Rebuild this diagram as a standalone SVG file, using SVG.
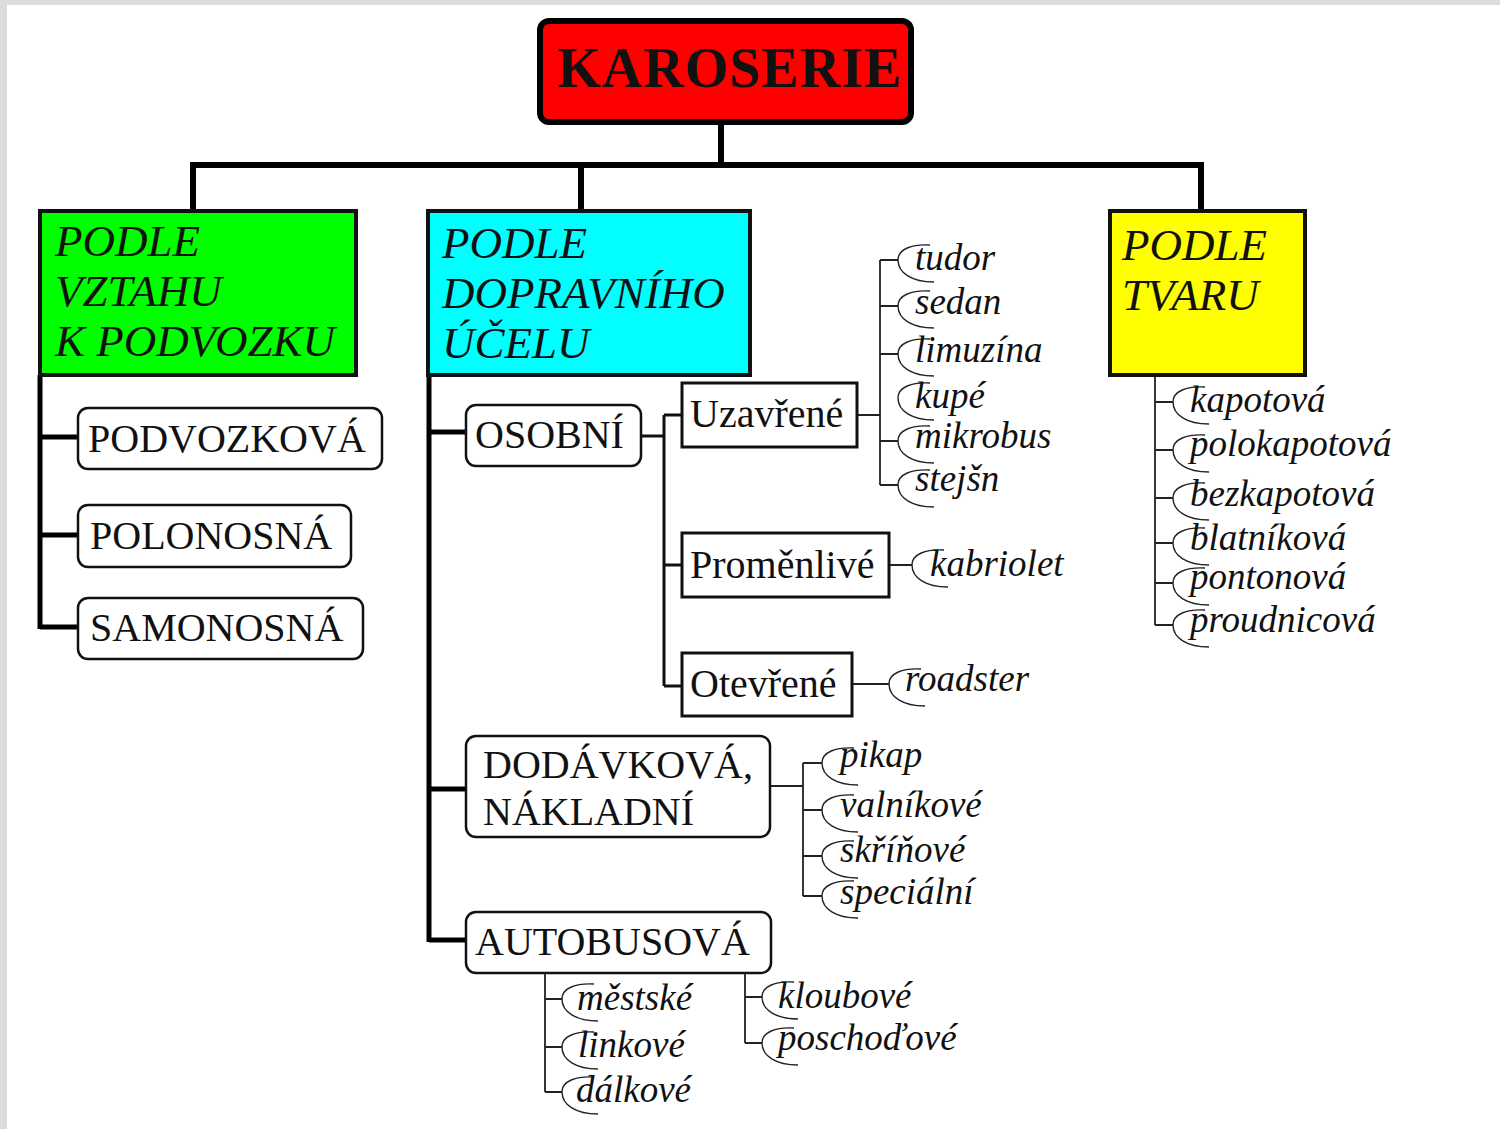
<svg xmlns="http://www.w3.org/2000/svg" xmlns:xlink="http://www.w3.org/1999/xlink" width="1500" height="1129" viewBox="0 0 1500 1129">
<style>
.t{font-family:"Liberation Serif","Times New Roman",serif;font-size:40px;fill:#111}
.lf{font-family:"Liberation Serif","Times New Roman",serif;font-size:37px;font-style:italic;fill:#111}
.hd{font-family:"Liberation Serif","Times New Roman",serif;font-size:45px;font-style:italic;fill:#111}
.ti{font-family:"Liberation Serif","Times New Roman",serif;font-size:56px;font-weight:bold;fill:#111}
.rb{fill:#fff;stroke:#111;stroke-width:2.5}
.bx{fill:#fff;stroke:#111;stroke-width:3}
.cb{stroke:#111;stroke-width:4}
.w6{stroke:#000;stroke-width:6;fill:none}
.w5{stroke:#000;stroke-width:5;fill:none}
.w3{stroke:#111;stroke-width:3;fill:none}
.w2{stroke:#222;stroke-width:1.8;fill:none}
</style>
<defs>
<path id="br" d="M32,-15 C14,-16 0,-11 0,0 C0,13 14,22 36,22" fill="none" stroke="#222" stroke-width="1.4"/>
</defs>
<rect x="0" y="0" width="1500" height="1129" fill="#fff"/>
<rect x="0" y="0" width="1500" height="5" fill="#dcdcdc"/>
<rect x="0" y="0" width="7" height="1129" fill="#dcdcdc"/>

<g id="connectors">
<path class="w6" d="M721,124 V165 M190,165 H1204 M193,165 V210 M581,165 V210 M1201,165 V210"/>
<path class="w5" d="M40,375 V629 M40,437 H78 M40,535 H78 M40,627 H78"/>
<path class="w5" d="M429,375 V942 M429,432 H466 M429,789 H466 M429,940 H466"/>
<path class="w3" d="M641,436 H664 M664,415 V686 M664,415 H682 M664,565 H682 M664,686 H682"/>
<path class="w2" d="M857,415 H880 M880,260 V485 M880,260 H898 M880,306 H898 M880,354 H898 M880,441 H898 M880,485 H898"/>
<path class="w2" d="M889,565 H912 M852,684 H889"/>
<path class="w2" d="M770,786 H803 M803,763 V896 M803,763 H822 M803,810 H822 M803,856 H822 M803,896 H822"/>
<path class="w2" d="M545,973 V1092 M545,999 H562 M545,1047 H562 M545,1092 H562 M745,973 V1043 M745,997 H762 M745,1043 H762"/>
<path class="w2" d="M1155,375 V625 M1155,402 H1173 M1155,450 H1173 M1155,498 H1173 M1155,543 H1173 M1155,583 H1173 M1155,625 H1173"/>
</g>

<g id="karoserie">
<rect x="540" y="21" width="371" height="101" rx="9" fill="#ff0000" stroke="#000" stroke-width="6"/>
<text class="ti" x="730" y="87" text-anchor="middle" letter-spacing="1">KAROSERIE</text>
</g>

<g id="podle-vztahu">
<rect x="40" y="211" width="316" height="164" fill="#00ff00" class="cb"/>
<text class="hd" x="55" y="256">PODLE</text>
<text class="hd" x="55" y="306">VZTAHU</text>
<text class="hd" x="55" y="356">K PODVOZKU</text>
</g>
<g id="podle-ucelu">
<rect x="428" y="211" width="322" height="164" fill="#00ffff" class="cb"/>
<text class="hd" x="442" y="258">PODLE</text>
<text class="hd" x="442" y="308">DOPRAVNÍHO</text>
<text class="hd" x="442" y="358">ÚČELU</text>
</g>
<g id="podle-tvaru">
<rect x="1110" y="211" width="195" height="164" fill="#ffff00" class="cb"/>
<text class="hd" x="1122" y="260">PODLE</text>
<text class="hd" x="1122" y="310">TVARU</text>
</g>

<g id="podvozkova"><rect class="rb" x="78" y="408" width="304" height="61" rx="10"/><text class="t" x="88" y="452">PODVOZKOVÁ</text></g>
<g id="polonosna"><rect class="rb" x="78" y="505" width="273" height="62" rx="10"/><text class="t" x="90" y="549">POLONOSNÁ</text></g>
<g id="samonosna"><rect class="rb" x="78" y="598" width="285" height="61" rx="10"/><text class="t" x="90" y="641">SAMONOSNÁ</text></g>

<g id="osobni"><rect class="rb" x="466" y="405" width="175" height="61" rx="10"/><text class="t" x="475" y="448">OSOBNÍ</text></g>
<g id="uzavrene"><rect class="bx" x="682" y="383" width="175" height="64"/><text class="t" x="690" y="427">Uzavřené</text></g>
<g id="promenlive"><rect class="bx" x="682" y="533" width="207" height="64"/><text class="t" x="690" y="578">Proměnlivé</text></g>
<g id="otevrene"><rect class="bx" x="682" y="653" width="170" height="63"/><text class="t" x="690" y="697">Otevřené</text></g>
<g id="dodavkova"><rect class="rb" x="466" y="736" width="304" height="101" rx="10"/><text class="t" x="483" y="778">DODÁVKOVÁ,</text><text class="t" x="483" y="825">NÁKLADNÍ</text></g>
<g id="autobusova"><rect class="rb" x="466" y="912" width="305" height="61" rx="10"/><text class="t" x="475" y="955">AUTOBUSOVÁ</text></g>

<g id="uzavrene-leaves">
<use href="#br" x="898" y="260"/><text class="lf" x="915" y="270">tudor</text>
<use href="#br" x="898" y="306"/><text class="lf" x="915" y="314">sedan</text>
<use href="#br" x="898" y="354"/><text class="lf" x="915" y="362">limuzína</text>
<use href="#br" x="898" y="398"/><text class="lf" x="915" y="408">kupé</text>
<use href="#br" x="898" y="441"/><text class="lf" x="915" y="448">mikrobus</text>
<use href="#br" x="898" y="485"/><text class="lf" x="915" y="491">stejšn</text>
</g>
<g id="kabriolet"><use href="#br" x="912" y="565"/><text class="lf" x="930" y="576">kabriolet</text></g>
<g id="roadster"><use href="#br" x="889" y="684"/><text class="lf" x="905" y="691">roadster</text></g>
<g id="dodavkova-leaves">
<use href="#br" x="822" y="763"/><text class="lf" x="840" y="767">pikap</text>
<use href="#br" x="822" y="810"/><text class="lf" x="840" y="817">valníkové</text>
<use href="#br" x="822" y="856"/><text class="lf" x="840" y="862">skříňové</text>
<use href="#br" x="822" y="896"/><text class="lf" x="840" y="904">speciální</text>
</g>
<g id="autobus-leaves-a">
<use href="#br" x="562" y="999"/><text class="lf" x="577" y="1010">městské</text>
<use href="#br" x="562" y="1047"/><text class="lf" x="578" y="1057">linkové</text>
<use href="#br" x="562" y="1092"/><text class="lf" x="576" y="1102">dálkové</text>
</g>
<g id="autobus-leaves-b">
<use href="#br" x="762" y="997"/><text class="lf" x="778" y="1008">kloubové</text>
<use href="#br" x="762" y="1043"/><text class="lf" x="778" y="1050">poschoďové</text>
</g>
<g id="tvar-leaves">
<use href="#br" x="1173" y="402"/><text class="lf" x="1190" y="412">kapotová</text>
<use href="#br" x="1173" y="450"/><text class="lf" x="1190" y="456">polokapotová</text>
<use href="#br" x="1173" y="498"/><text class="lf" x="1190" y="506">bezkapotová</text>
<use href="#br" x="1173" y="543"/><text class="lf" x="1190" y="550">blatníková</text>
<use href="#br" x="1173" y="583"/><text class="lf" x="1190" y="589">pontonová</text>
<use href="#br" x="1173" y="625"/><text class="lf" x="1190" y="632">proudnicová</text>
</g>
</svg>
